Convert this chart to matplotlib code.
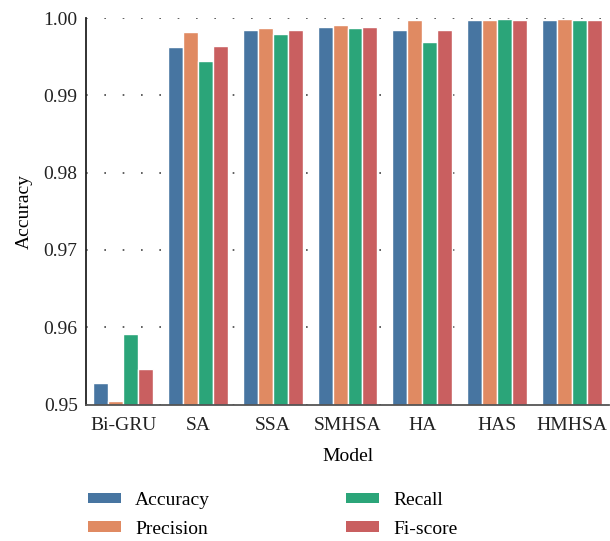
import numpy as np
import matplotlib
matplotlib.use('Agg')
import matplotlib.pyplot as plt

models = ['Bi-GRU', 'SA', 'SSA', 'SMHSA', 'HA', 'HAS', 'HMHSA']
metrics = ['Accuracy', 'Precision', 'Recall', 'Fi-score']
accuracy = [0.9528, 0.9963, 0.9984, 0.9989, 0.99845, 0.9997, 0.9997]
precision = [0.9505, 0.9982, 0.99867, 0.9991, 0.9997, 0.9997, 0.9999]
recall = [0.9591, 0.99444, 0.99793, 0.99867, 0.9969, 0.9999, 0.9997]
fiscore = [0.95455, 0.99642, 0.9984, 0.99888, 0.99845, 0.9997, 0.9997]
colors = ['#4775a1', '#e08a62', '#2ba579', '#c95f60']

plt.rcParams['font.family'] = ['Liberation Serif', 'DejaVu Serif']
plt.rcParams['font.size'] = 14

fig = plt.figure(figsize=(6.1, 5.41), dpi=100)
ax = fig.add_axes([86/610, 0.2523, 523/610, 0.9667-0.2523])

x = np.arange(len(models))
w = 0.2
series = [accuracy, precision, recall, fiscore]
for i, (vals, name) in enumerate(zip(series, metrics)):
 ax.bar(x + (i-1.5)*w, vals, width=w, color=colors[i], edgecolor='white', linewidth=1, label=name, zorder=2)

ax.set_xlim(-0.5, 6.5)
ax.set_ylim(0.95, 1.0)
ax.set_yticks([0.95, 0.96, 0.97, 0.98, 0.99, 1.00])
ax.set_yticklabels(['0.95', '0.96', '0.97', '0.98', '0.99', '1.00'])
ax.set_xticks(x)
ax.set_xticklabels(models)
ax.tick_params(axis='y', length=0, pad=6, colors='#222222')
ax.tick_params(axis='x', length=0, pad=9, colors='#222222')
ax.yaxis.grid(True, linestyle=(0, (1, 10)), color='#444444', linewidth=1.2, zorder=0)
ax.set_axisbelow(True)
for s in ['top', 'right']:
 ax.spines[s].set_visible(False)
ax.spines['left'].set_color('#222222')
ax.spines['bottom'].set_color('#555555')
ax.spines['left'].set_linewidth(1.3)
ax.spines['bottom'].set_linewidth(1.3)
ax.set_xlabel('Model', labelpad=10)
ax.set_ylabel('Accuracy', labelpad=8)

leg = fig.legend(*ax.get_legend_handles_labels(), ncol=2, loc='upper left',
 bbox_to_anchor=(88/610, 1-492/541), frameon=False, borderpad=0, borderaxespad=0,
 handlelength=1.7, handleheight=0.47, handletextpad=0.72, columnspacing=7.0, labelspacing=0.6, fontsize=14)
for h in leg.get_patches():
 h.set_edgecolor('none')

fig.savefig('out.png', dpi=100)
